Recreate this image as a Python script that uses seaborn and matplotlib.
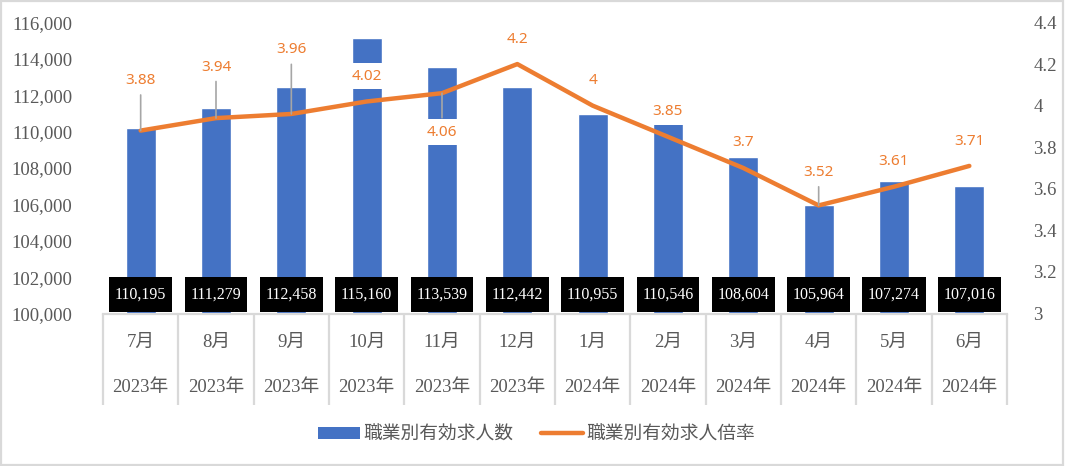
import numpy as np
import pandas as pd
import matplotlib
matplotlib.use('Agg')
import matplotlib.pyplot as plt
import matplotlib.transforms as mtransforms
from matplotlib.patches import Rectangle, Patch
from matplotlib.lines import Line2D
import seaborn as sns

# ── Données ──────────────────────────────────────────────────────────────
months = ['7月', '8月', '9月', '10月', '11月', '12月',
          '1月', '2月', '3月', '4月', '5月', '6月']
years = ['2023年'] * 6 + ['2024年'] * 6
kyujin_su = [110195, 111279, 112458, 115160, 113539, 112442,
             110955, 110546, 108604, 105964, 107274, 107016]
bairitsu = [3.88, 3.94, 3.96, 4.02, 4.06, 4.2,
            4.0, 3.85, 3.7, 3.52, 3.61, 3.71]
bairitsu_txt = ['3.88', '3.94', '3.96', '4.02', '4.06', '4.2',
                '4', '3.85', '3.7', '3.52', '3.61', '3.71']
left_ticks = [100000, 102000, 104000, 106000, 108000, 110000, 112000, 114000, 116000]
right_ticks = [3, 3.2, 3.4, 3.6, 3.8, 4, 4.2, 4.4]
right_tick_txt = ['3', '3.2', '3.4', '3.6', '3.8', '4', '4.2', '4.4']

# label placement (pixels above the point) and leader lines
label_dy = [50, 51, 64, 25, -39, 25, 25, 25, 25, 33, 25, 24]
leader = [True, True, True, False, True, False, False, False, False, True, False, False]

BLUE = '#4472C4'
ORANGE = '#ED7D31'
GREY_TXT = '#595959'
GRID = '#D9D9D9'
SERIF = ['Liberation Serif', 'Noto Sans CJK JP']
CJK = ['Noto Sans CJK JP', 'DejaVu Sans']

sns.set_theme(style='white')
plt.rcParams['font.family'] = SERIF

df = pd.DataFrame({'mois': months, 'annee': years,
                   'nombre': kyujin_su, 'ratio': bairitsu})
df['pos'] = np.arange(len(df))

fig = plt.figure(figsize=(10.65, 4.66), dpi=100)
ax = fig.add_axes([103 / 1065, 1 - 313.5 / 466, 904 / 1065, 291 / 466])

# ── Barres ───────────────────────────────────────────────────────────────
sns.barplot(data=df, x='mois', y='nombre', color=BLUE, width=0.4,
            saturation=1, ax=ax, order=months)
ax.set_ylim(left_ticks[0], left_ticks[-1])
ax.set_xlim(-0.5, len(months) - 0.5)
ax.set_yticks(left_ticks)
ax.set_yticklabels([f'{t:,}' for t in left_ticks], fontsize=13.5,
                   color=GREY_TXT, family=SERIF)
ax.set_xticks(range(len(months)))
ax.set_xticklabels([])
ax.tick_params(axis='both', length=0, pad=22)
ax.set_xlabel('')
ax.set_ylabel('')
for s in ['left', 'right', 'top']:
    ax.spines[s].set_visible(False)
ax.spines['bottom'].set_color(GRID)
ax.spines['bottom'].set_linewidth(1.6)

# étiquettes noires des barres
for i, v in enumerate(df['nombre']):
    ax.annotate(f'{v:,}', xy=(i, left_ticks[0]), xytext=(0, 19),
                textcoords='offset pixels', ha='center', va='center',
                fontsize=11.5, color='white', family=SERIF, zorder=6,
                bbox=dict(boxstyle='square,pad=0.36', fc='black', ec='none',
                          mutation_aspect=1.7))

# axe catégoriel en tableau
trans = mtransforms.blended_transform_factory(ax.transData, ax.transAxes)
for k in range(len(months) + 1):
    ax.plot([k - 0.5, k - 0.5], [0, -0.316], transform=trans, color=GRID,
            lw=1.6, clip_on=False, solid_capstyle='butt')
for i, (m, y) in enumerate(zip(df['mois'], df['annee'])):
    ax.text(i, -0.10, m, transform=trans, ha='center', va='center',
            fontsize=13.5, color=GREY_TXT, family=SERIF)
    ax.text(i, -0.255, y, transform=trans, ha='center', va='center',
            fontsize=13.5, color=GREY_TXT, family=SERIF)

# ── Ligne (axe secondaire) ───────────────────────────────────────────────
ax2 = ax.twinx()
sns.lineplot(data=df, x='pos', y='ratio', color=ORANGE, lw=3.2, ax=ax2,
             solid_capstyle='round', solid_joinstyle='round', zorder=4)
ax2.set_ylim(right_ticks[0], right_ticks[-1])
ax2.set_xlim(-0.5, len(months) - 0.5)
ax2.set_yticks(right_ticks)
ax2.set_yticklabels(right_tick_txt, fontsize=13.5, color=GREY_TXT, family=SERIF)
ax2.tick_params(axis='y', length=0, pad=19)
ax2.set_xlabel('')
ax2.set_ylabel('')
for s in ax2.spines.values():
    s.set_visible(False)

for i, (v, t) in enumerate(zip(df['ratio'], bairitsu_txt)):
    arrow = None
    if leader[i]:
        arrow = dict(arrowstyle='-', color='#A6A6A6', lw=1.2,
                     shrinkA=1, shrinkB=0)
    ax2.annotate(t, xy=(i, v), xytext=(0, label_dy[i]),
                 textcoords='offset pixels', ha='center', va='center',
                 fontsize=11, color=ORANGE, family=['Noto Sans', 'DejaVu Sans'],
                 zorder=7, arrowprops=arrow,
                 bbox=dict(boxstyle='square,pad=0.36', fc='white', ec='none'))

# ── Légende ──────────────────────────────────────────────────────────────
handles = [Patch(facecolor=BLUE, edgecolor='none'),
           Line2D([0], [0], color=ORANGE, lw=3.2, solid_capstyle='round')]
leg = fig.legend(handles, ['職業別有効求人数', '職業別有効求人倍率'],
                 loc='center', bbox_to_anchor=(0.504, 0.069), ncol=2,
                 frameon=False, handlelength=2.2, handleheight=0.65,
                 handletextpad=0.2, columnspacing=1.5,
                 prop={'family': CJK, 'size': 13.5})
for txt in leg.get_texts():
    txt.set_color(GREY_TXT)

# cadre du graphique
fig.patches.append(Rectangle((0.001, 0.002), 0.997, 0.995, transform=fig.transFigure,
                             fill=False, ec=GRID, lw=1.6))

fig.savefig('out.png', dpi=100)
